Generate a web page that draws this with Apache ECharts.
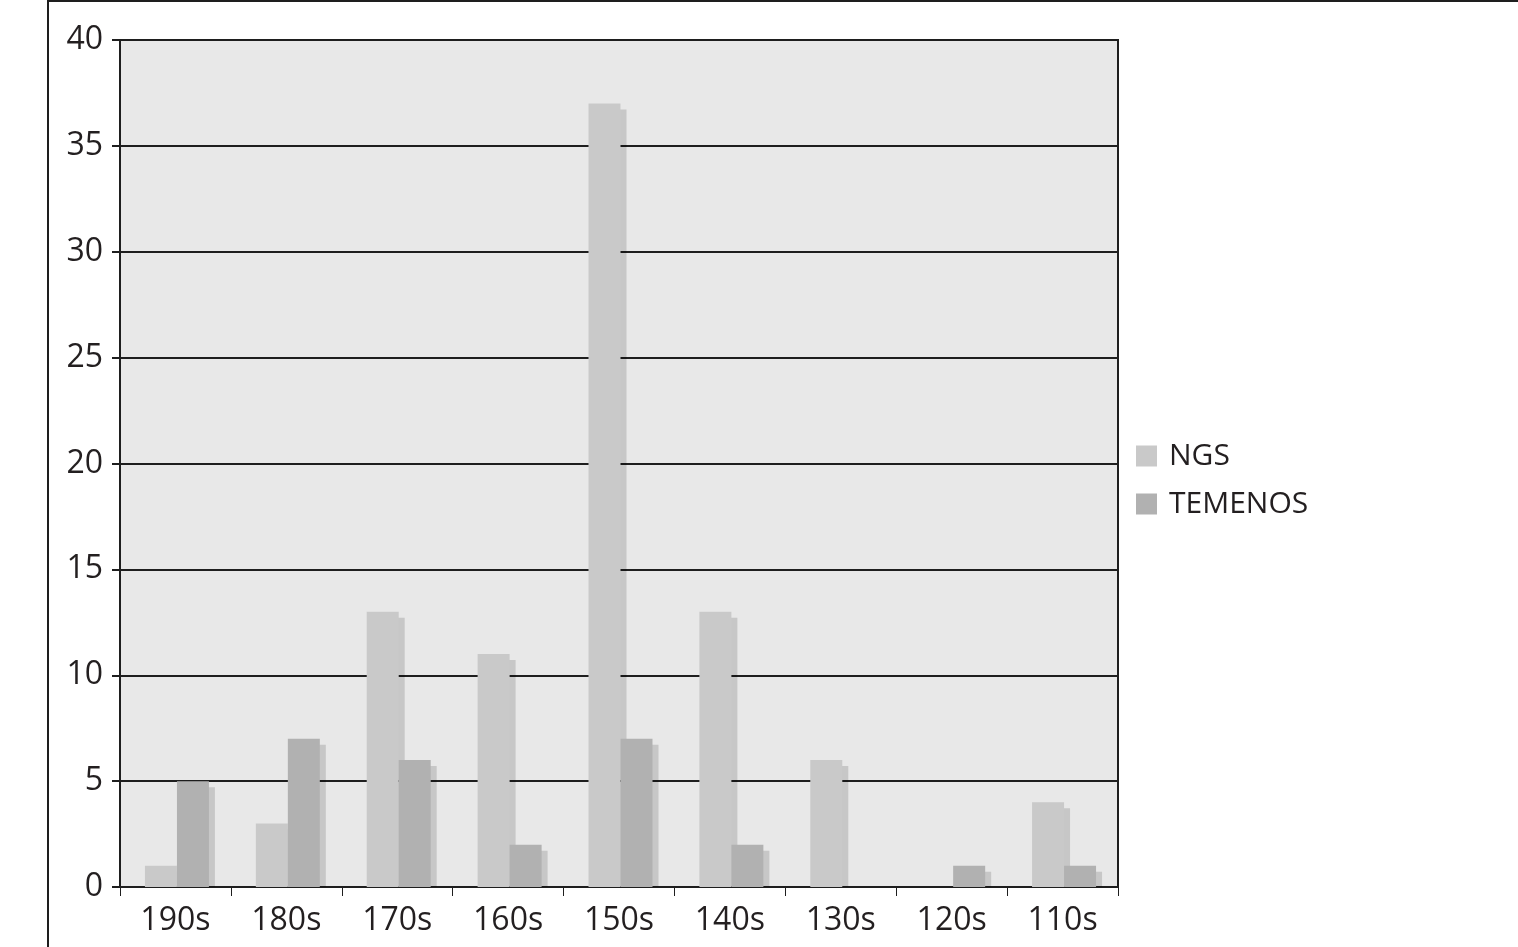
<!DOCTYPE html>
<html>
<head>
<meta charset="utf-8">
<title>NGS / TEMENOS</title>
<script src="https://cdn.jsdelivr.net/npm/echarts@6/dist/echarts.min.js"></script>
<style>
  html, body { margin: 0; padding: 0; background: #fff; }
  #chart { width: 1518px; height: 947px; }
</style>
</head>
<body>
<div id="chart"></div>
<script>
// decades, newest first
var decades = ['190s', '180s', '170s', '160s', '150s', '140s', '130s', '120s', '110s']
var ngsData = [1, 3, 13, 11, 37, 13, 6, 0, 4]
var temenosData = [5, 7, 6, 2, 7, 2, 0, 1, 1]
var yTicks = [0, 5, 10, 15, 20, 25, 30, 35, 40]

var FONT = '"Open Sans", "DejaVu Sans", sans-serif'
var BAR_W = 32
var SHADOW = 6

// bar with a flat drop shadow on its right, like the old office charts
function barRenderer(offset, color) {
  return function (params, api) {
    var idx = api.value(0)
    var val = api.value(1)
    if (!val) {
      return { type: 'group', children: [] }
    }
    var base = api.coord([idx, 0])
    var top = api.coord([idx, val])
    var x0 = base[0] + offset
    var h = base[1] - top[1]
    return {
      type: 'group',
      children: [
        {
          type: 'rect',
          shape: { x: x0 + SHADOW, y: top[1] + SHADOW, width: BAR_W, height: Math.max(h - SHADOW, 0) },
          style: { fill: 'rgba(0,0,0,0.14)' }
        },
        {
          type: 'rect',
          shape: { x: x0, y: top[1], width: BAR_W, height: h },
          style: { fill: color }
        }
      ]
    }
  }
}

function pairs(arr) {
  return arr.map(function (v, i) { return [i, v] })
}

var chart = echarts.init(document.getElementById('chart'))

chart.setOption({
  animation: false,
  backgroundColor: '#fff',
  grid: {
    left: 120,
    right: 400,
    top: 40,
    bottom: 60,
    show: true,
    backgroundColor: '#e8e8e8',
    borderColor: '#1e1e1e',
    borderWidth: 2
  },
  graphic: [
    { type: 'line', shape: { x1: 48, y1: 0, x2: 48, y2: 947 }, style: { stroke: '#1e1e1e', lineWidth: 2 } },
    { type: 'line', shape: { x1: 48, y1: 1, x2: 1518, y2: 1 }, style: { stroke: '#1e1e1e', lineWidth: 2 } }
  ],
  legend: {
    orient: 'vertical',
    left: 1136,
    top: 441,
    padding: 0,
    itemWidth: 21,
    itemHeight: 21,
    itemGap: 18,
    icon: 'rect',
    data: ['NGS', 'TEMENOS'],
    textStyle: {
      fontFamily: FONT,
      fontSize: 30,
      color: '#231f20',
      lineHeight: 28,
      padding: [0, 0, 0, 7]
    }
  },
  xAxis: {
    type: 'category',
    data: decades,
    axisLine: { lineStyle: { color: '#1e1e1e', width: 2 } },
    axisTick: { show: true, length: 9, lineStyle: { color: '#1e1e1e', width: 1 } },
    axisLabel: {
      margin: 18,
      fontFamily: FONT,
      fontSize: 32,
      color: '#231f20'
    },
    splitLine: { show: false }
  },
  yAxis: {
    type: 'value',
    min: yTicks[0],
    max: yTicks[yTicks.length - 1],
    interval: 5,
    axisLine: { show: true, lineStyle: { color: '#1e1e1e', width: 2 } },
    axisTick: { show: true, length: 8, lineStyle: { color: '#1e1e1e', width: 2 } },
    axisLabel: {
      margin: 17,
      fontFamily: FONT,
      fontSize: 32,
      color: '#231f20',
      padding: [4, 0, 0, 0]
    },
    splitLine: { show: true, lineStyle: { color: '#1e1e1e', width: 2 } }
  },
  series: [
    {
      name: 'NGS',
      type: 'custom',
      itemStyle: { color: '#c9c9c9' },
      encode: { x: 0, y: 1 },
      data: pairs(ngsData),
      renderItem: barRenderer(-30.5, '#c9c9c9')
    },
    {
      name: 'TEMENOS',
      type: 'custom',
      itemStyle: { color: '#b1b1b1' },
      encode: { x: 0, y: 1 },
      data: pairs(temenosData),
      renderItem: barRenderer(1.5, '#b1b1b1')
    }
  ]
})
</script>
</body>
</html>
